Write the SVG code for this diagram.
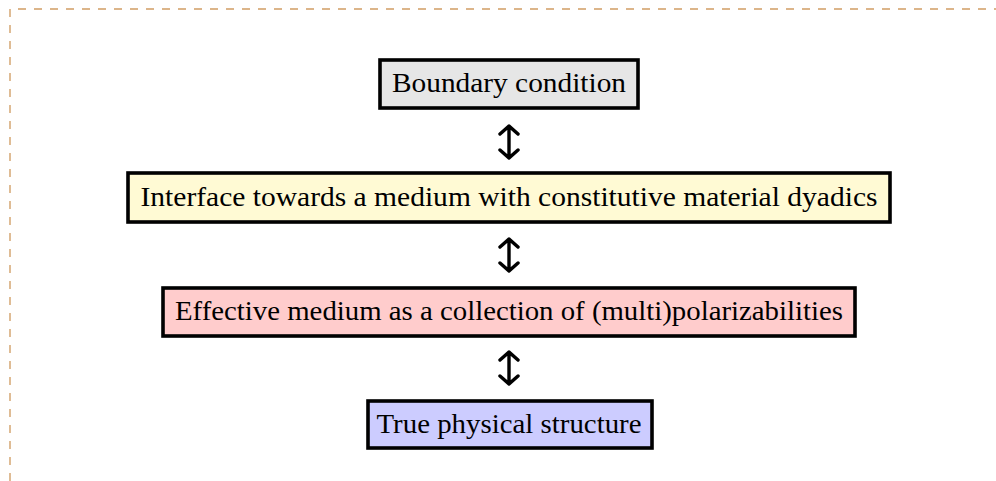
<svg xmlns="http://www.w3.org/2000/svg" width="996" height="481" viewBox="0 0 996 481">
  <style>
    .frame { fill: none; stroke: #dcb58a; stroke-width: 1.8; stroke-dasharray: 8 8; }
    .box { stroke: #000; stroke-width: 3.6; }
    .lbl { font-family: "Liberation Serif", "DejaVu Serif", serif; font-size: 27px; fill: #000; text-anchor: middle; }
    .arr { fill: none; stroke: #000; stroke-width: 3.4; stroke-linecap: round; stroke-linejoin: round; }
  </style>
  <defs>
    <g id="dblarrow">
      <path class="arr" d="M0,-16 V16 M-9,-8 L0,-16 L9,-8 M-9,8 L0,16 L9,8"/>
    </g>
  </defs>
  <rect width="996" height="481" fill="#fff"/>
  <path class="frame" d="M10,481 V9 H996"/>

  <g id="node-boundary">
    <rect class="box" x="380" y="60" width="258" height="48" fill="#e6e6e6"/>
    <text class="lbl" x="509" y="92" textLength="234" lengthAdjust="spacingAndGlyphs">Boundary condition</text>
  </g>
  <g id="node-interface">
    <rect class="box" x="128" y="173" width="762" height="49" fill="#fffad4"/>
    <text class="lbl" x="509" y="206" textLength="737" lengthAdjust="spacingAndGlyphs">Interface towards a medium with constitutive material dyadics</text>
  </g>
  <g id="node-effective">
    <rect class="box" x="163" y="288" width="692" height="48" fill="#ffcccc"/>
    <text class="lbl" x="509" y="320" textLength="668" lengthAdjust="spacingAndGlyphs">Effective medium as a collection of (multi)polarizabilities</text>
  </g>
  <g id="node-true">
    <rect class="box" x="368" y="401" width="284" height="47" fill="#ccccff"/>
    <text class="lbl" x="509" y="433" textLength="265" lengthAdjust="spacingAndGlyphs">True physical structure</text>
  </g>

  <g id="connectors">
    <use href="#dblarrow" x="509" y="142"/>
    <use href="#dblarrow" x="509" y="255"/>
    <use href="#dblarrow" x="509" y="368"/>
  </g>
</svg>
